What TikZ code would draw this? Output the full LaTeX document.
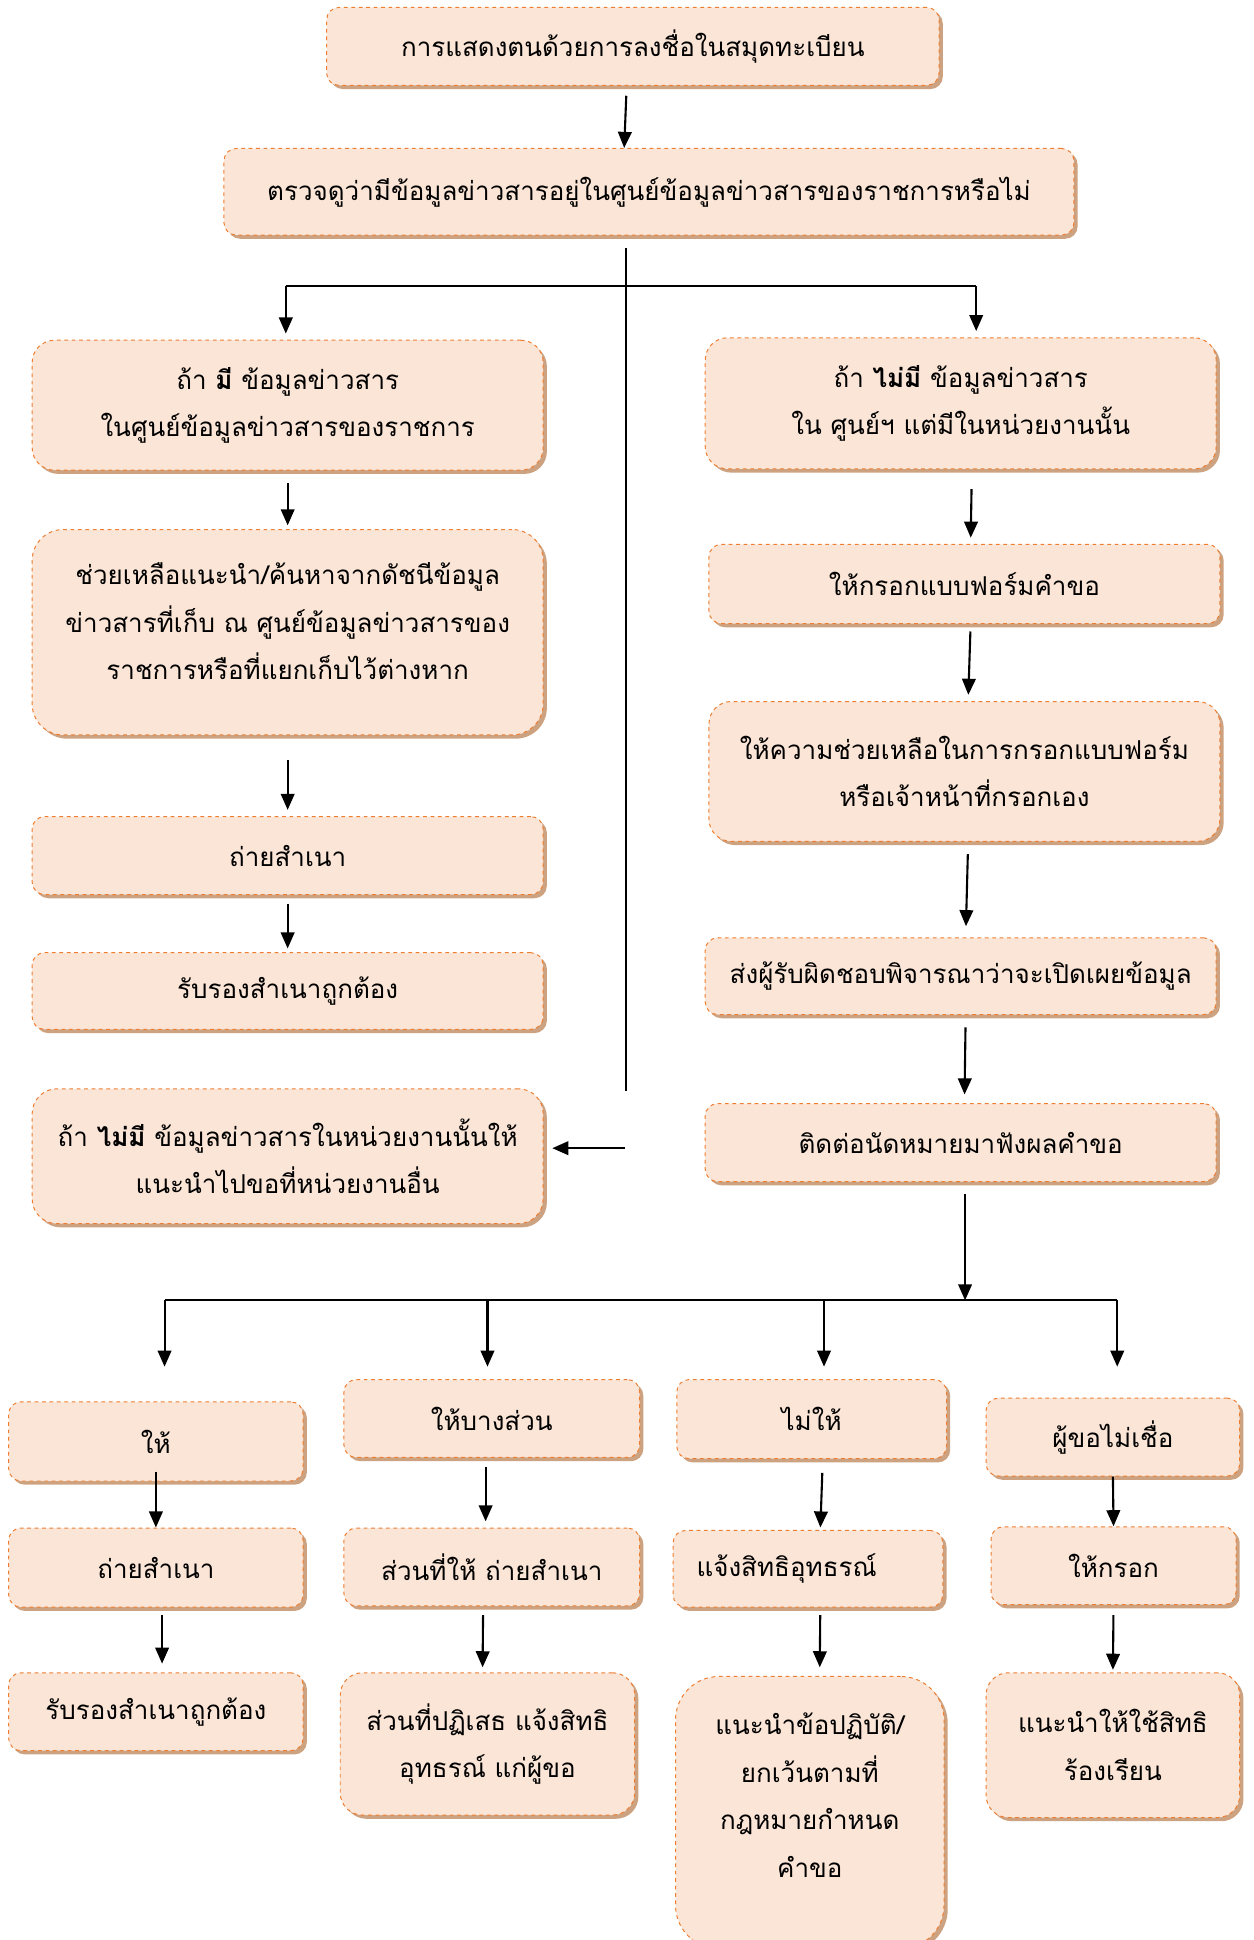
\documentclass[tikz,border=0pt]{standalone}
\usepackage{fontspec}
\setmainfont{Liberation Sans}
\newfontfamily\thaifont[Script=Thai]{Loma}
\usetikzlibrary{positioning, arrows.meta, shadows}

\definecolor{boxfill}{RGB}{251,229,214}
\definecolor{boxline}{RGB}{237,125,49}
\definecolor{boxshadow}{RGB}{205,162,128}

\tikzstyle{infobox} = [
  rectangle, rounded corners=10pt,
  minimum width=413pt, minimum height=63pt,
  text centered, align=center,
  draw=boxline, fill=boxfill, dashed, line width=0.8pt,
  drop shadow={shadow xshift=3pt, shadow yshift=-3pt,
    fill=boxshadow, opacity=1}
]
\tikzset{
  arrow/.style={line width=1.7pt, -{Triangle[length=13pt,width=11pt]}},
  link/.style={line width=1.7pt}
}

\begin{document}
\begin{tikzpicture}[
  x=1pt, y=-1pt,
  font=\thaifont\fontsize{21}{38.5}\selectfont
]
\useasboundingbox (0,0) rectangle (1013,1568);

% ------------------------------------------------
% TOP: 2 boxes
% ------------------------------------------------

% n1: sign in the register
\node[infobox, minimum width=495pt] (n1) at (511.5,37.5)
  {การแสดงตนด้วยการลงชื่อในสมุดทะเบียน};

% n2: check the information centre
\node[infobox, minimum width=687pt, minimum height=70pt] (n2) at (524.5,155)
  {ตรวจดูว่ามีข้อมูลข่าวสารอยู่ในศูนย์ข้อมูลข่าวสารของราชการหรือไม่};

% ------------------------------------------------
% LEFT COLUMN
% ------------------------------------------------

% n3: found in the centre
\node[infobox, rounded corners=18pt, minimum height=105pt] (n3) at (232.5,327.5) {%
  ถ้า \textbf{มี} ข้อมูลข่าวสาร\\
  ในศูนย์ข้อมูลข่าวสารของราชการ
};

% n5: help / search the index (text sits high in the box)
\node[infobox, rounded corners=25pt, minimum height=166pt,
  label={[align=center, yshift=9pt]center:{%
    ช่วยเหลือแนะนำ/ค้นหาจากดัชนีข้อมูล\\
    ข่าวสารที่เก็บ ณ ศูนย์ข้อมูลข่าวสารของ\\
    ราชการหรือที่แยกเก็บไว้ต่างหาก}}] (n5) at (232.5,511) {};

% n6, n7: copy and certify
\node[infobox] (n6) at (232.5,691.5) {ถ่ายสำเนา};
\node[infobox, minimum height=62pt] (n7) at (232.5,801) {รับรองสำเนาถูกต้อง};

% n8: not held by the agency
\node[infobox, rounded corners=20pt, minimum height=109pt] (n8) at (232.5,934.5) {%
  ถ้า \textbf{ไม่มี} ข้อมูลข่าวสารในหน่วยงานนั้นให้\\
  แนะนำไปขอที่หน่วยงานอื่น
};

% ------------------------------------------------
% RIGHT COLUMN
% ------------------------------------------------

% n4: not in the centre but in the agency
\node[infobox, rounded corners=18pt, minimum height=106pt] (n4) at (776.5,326) {%
  ถ้า \textbf{ไม่มี} ข้อมูลข่าวสาร\\
  ใน ศูนย์ฯ แต่มีในหน่วยงานนั้น
};

% n9: fill in the form
\node[infobox, minimum height=64pt] (n9) at (779.5,472) {ให้กรอกแบบฟอร์มคำขอ};

% n10: help with the form
\node[infobox, rounded corners=18pt, minimum height=113pt] (n10) at (779.5,623.5) {%
  ให้ความช่วยเหลือในการกรอกแบบฟอร์ม\\
  หรือเจ้าหน้าที่กรอกเอง
};

% n11, n12: decision and appointment
\node[infobox, minimum height=62pt] (n11) at (776.5,789)
  {ส่งผู้รับผิดชอบพิจารณาว่าจะเปิดเผยข้อมูล};
\node[infobox] (n12) at (776.5,923.5) {ติดต่อนัดหมายมาฟังผลคำขอ};

% ------------------------------------------------
% BOTTOM: 4 columns
% ------------------------------------------------

% column 1: given
\node[infobox, minimum width=238pt, minimum height=64pt] (n13) at (126,1165) {ให้};
\node[infobox, minimum width=238pt, minimum height=64pt] (n14) at (126,1267) {ถ่ายสำเนา};
\node[infobox, minimum width=238pt] (n15) at (126,1383.5) {รับรองสำเนาถูกต้อง};

% column 2: partly given
\node[infobox, minimum width=239pt] (n16) at (397.5,1146.5) {ให้บางส่วน};
\node[infobox, minimum width=239pt] (n17) at (397.5,1266.5) {ส่วนที่ให้ ถ่ายสำเนา};
\node[infobox, rounded corners=18pt, minimum width=238pt, minimum height=115pt] (n18)
  at (394,1409.5) {%
  ส่วนที่ปฏิเสธ แจ้งสิทธิ\\
  อุทธรณ์ แก่ผู้ขอ
};

% column 3: refused
\node[infobox, minimum width=218pt, minimum height=64pt] (n19) at (656,1147) {ไม่ให้};
\node[infobox, minimum width=218pt, minimum height=62pt, text width=180pt,
  align=left] (n20) at (653,1268) {แจ้งสิทธิอุทธรณ์};
\node[infobox, rounded corners=35pt, minimum width=217pt, minimum height=220pt,
  label={[align=center, yshift=14pt]center:{%
    แนะนำข้อปฏิบัติ/\\
    ยกเว้นตามที่\\
    กฎหมายกำหนด\\
    คำขอ}}] (n21) at (654.5,1465) {};

% column 4: applicant disagrees
\node[infobox, minimum width=205pt] (n22) at (899.5,1161.5) {ผู้ขอไม่เชื่อ};
\node[infobox, minimum width=198pt] (n23) at (900,1265.5) {ให้กรอก};
\node[infobox, rounded corners=18pt, minimum width=205pt, minimum height=117pt] (n24)
  at (899.5,1410.5) {%
  แนะนำให้ใช้สิทธิ\\
  ร้องเรียน
};

% ------------------------------------------------
% CONNECTORS
% ------------------------------------------------

% top
\draw[arrow, shorten <=8pt] ([xshift=-5pt]n1.south) -- ([xshift=-7pt]n2.north -| n1.south);

% split under n2, with the long trunk on the left of the right column
\coordinate (trunk) at (506,882);
\coordinate (brL) at (231,231);
\coordinate (brR) at (789,231);
\draw[link, shorten <=10pt] (n2.south -| trunk) -- (trunk);
\draw[link] (brL) -- (brR);
\draw[arrow, shorten >=5pt] (brL) -- (brL |- n3.north);
\draw[arrow, shorten >=5pt] (brR) -- (brR |- n4.north);

% back to n8
\coordinate (back) at (505,928);
\draw[arrow, shorten >=7pt] (back) -- (back -| n8.east);

% left column
\draw[arrow, shorten <=10pt, shorten >=3pt] (n3.south) -- (n5.north);
\draw[arrow, shorten <=20pt, shorten >=5pt] (n5.south) -- (n6.north);
\draw[arrow, shorten <=7pt, shorten >=3pt] (n6.south) -- (n7.north);

% right column
\draw[arrow, shorten <=16pt, shorten >=5pt] ([xshift=9pt]n4.south) -- ([xshift=5pt]n9.north);
\draw[arrow, shorten <=6pt, shorten >=5pt] ([xshift=5pt]n9.south) -- ([xshift=3pt]n10.north);
\draw[arrow, shorten <=10pt, shorten >=9pt] ([xshift=3pt]n10.south) -- ([xshift=4pt]n11.north);
\draw[arrow, shorten <=10pt, shorten >=7pt] ([xshift=4pt]n11.south) -- ([xshift=3pt]n12.north);

% bus to the four answers
\coordinate (k1) at (133,1051);
\coordinate (k2) at (394,1051);
\coordinate (k3) at (666,1051);
\coordinate (k4) at (903,1051);
\coordinate (kin) at (780,1051);
\draw[arrow, shorten <=10pt] (n12.south -| kin) -- (kin);
\draw[link] (k1) -- (k4);
\draw[arrow, shorten >=28pt] (k1) -- (k1 |- n13.north);
\draw[arrow, shorten >=10pt] (k2) -- (k2 |- n16.north);
\draw[arrow, shorten >=10pt] (k3) -- (k3 |- n19.north);
\draw[arrow, shorten >=25pt] (k4) -- (k4 |- n22.north);

% four columns
\draw[arrow, shorten <=-8pt] (n13.south) -- (n14.north);
\draw[arrow, shorten <=6pt, shorten >=7pt] ([xshift=5pt]n14.south) -- ([xshift=5pt]n15.north);
\draw[arrow, shorten <=7pt, shorten >=5pt] ([xshift=-5pt]n16.south) -- ([xshift=-5pt]n17.north);
\draw[arrow, shorten <=7pt, shorten >=4pt] ([xshift=-7pt]n17.south) -- ([xshift=-4pt]n18.north);
\draw[arrow, shorten <=11pt, shorten >=2pt] ([xshift=9pt]n19.south) -- ([xshift=10pt]n20.north);
\draw[arrow, shorten <=6pt, shorten >=7pt] ([xshift=10pt]n20.south) -- ([xshift=8pt]n21.north);
\draw[arrow] (n22.south) -- (n23.north);
\draw[arrow, shorten <=8pt, shorten >=2pt] (n23.south) -- (n24.north);

\end{tikzpicture}
\end{document}
